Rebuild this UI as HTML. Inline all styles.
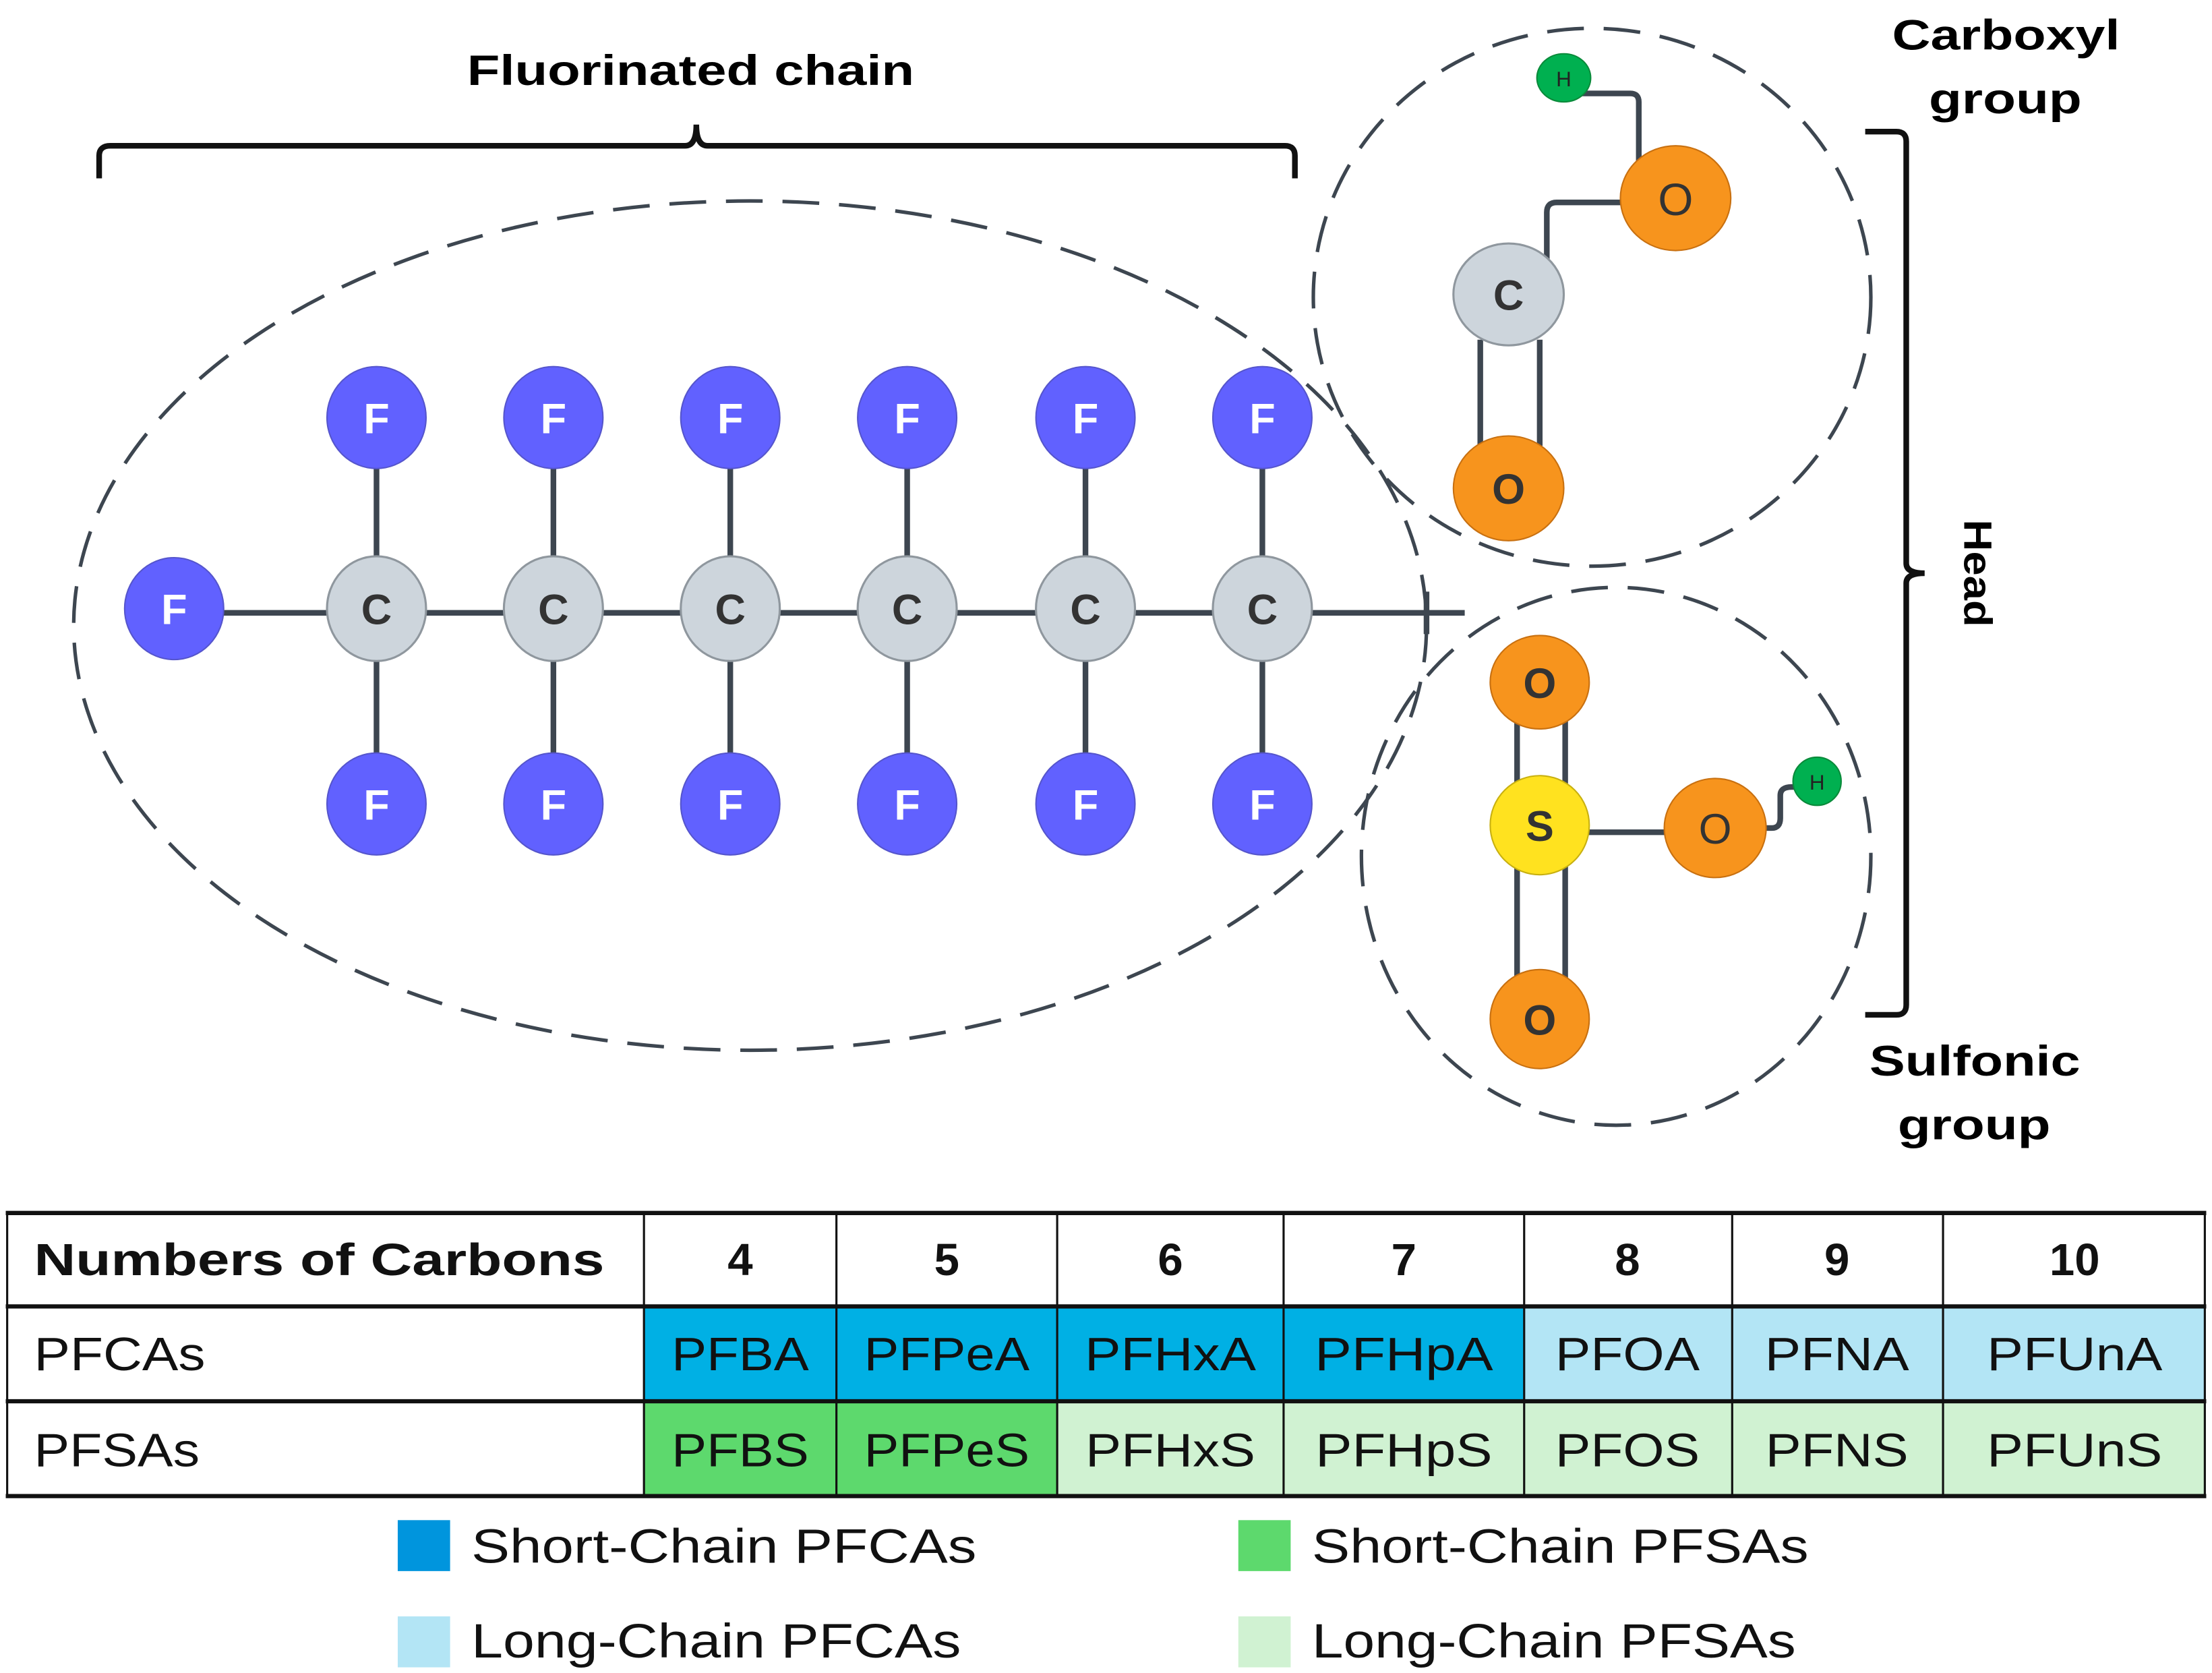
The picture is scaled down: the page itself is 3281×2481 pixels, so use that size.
<!DOCTYPE html>
<html><head><meta charset="utf-8"><style>
html,body{margin:0;padding:0;background:#fff;}
svg{display:block;}
text{font-family:"Liberation Sans",sans-serif;}
</style></head><body>
<svg width="3281" height="2481" viewBox="0 0 1563 1182" xmlns="http://www.w3.org/2000/svg">
<rect width="1563" height="1182" fill="#fff"/>
<text x="330" y="60" font-size="30" font-weight="bold" textLength="316" lengthAdjust="spacingAndGlyphs">Fluorinated chain</text>
<path d="M70,126 V110 Q70,103 78,103 H484 Q492,103 492,88 Q492,103 500,103 H908 Q915,103 915,110 V126" fill="none" stroke="#111" stroke-width="4"/>
<ellipse cx="530" cy="442" rx="478" ry="300" fill="none" stroke="#3d4650" stroke-width="2.5" stroke-dasharray="26 14"/>
<g stroke="#3d4650" stroke-width="4" fill="none">
<line x1="150" y1="433" x2="1035" y2="433"/>
<line x1="1008" y1="418" x2="1008" y2="448"/>
<line x1="266" y1="300" x2="266" y2="560"/>
<line x1="391" y1="300" x2="391" y2="560"/>
<line x1="516" y1="300" x2="516" y2="560"/>
<line x1="641" y1="300" x2="641" y2="560"/>
<line x1="767" y1="300" x2="767" y2="560"/>
<line x1="892" y1="300" x2="892" y2="560"/>
</g>
<g font-size="30" font-weight="bold" text-anchor="middle">
<g fill="#6161ff" stroke="#5555cc" stroke-width="1">
<ellipse cx="123" cy="430" rx="35" ry="36"/>
<ellipse cx="266" cy="295" rx="35" ry="36"/><ellipse cx="391" cy="295" rx="35" ry="36"/><ellipse cx="516" cy="295" rx="35" ry="36"/><ellipse cx="641" cy="295" rx="35" ry="36"/><ellipse cx="767" cy="295" rx="35" ry="36"/><ellipse cx="892" cy="295" rx="35" ry="36"/>
<ellipse cx="266" cy="568" rx="35" ry="36"/><ellipse cx="391" cy="568" rx="35" ry="36"/><ellipse cx="516" cy="568" rx="35" ry="36"/><ellipse cx="641" cy="568" rx="35" ry="36"/><ellipse cx="767" cy="568" rx="35" ry="36"/><ellipse cx="892" cy="568" rx="35" ry="36"/>
</g>
<g fill="#fff">
<text x="123" y="441">F</text>
<text x="266" y="306">F</text><text x="391" y="306">F</text><text x="516" y="306">F</text><text x="641" y="306">F</text><text x="767" y="306">F</text><text x="892" y="306">F</text>
<text x="266" y="579">F</text><text x="391" y="579">F</text><text x="516" y="579">F</text><text x="641" y="579">F</text><text x="767" y="579">F</text><text x="892" y="579">F</text>
</g>
<g fill="#cdd5dc" stroke="#8f979e" stroke-width="1.5">
<ellipse cx="266" cy="430" rx="35" ry="37"/><ellipse cx="391" cy="430" rx="35" ry="37"/><ellipse cx="516" cy="430" rx="35" ry="37"/><ellipse cx="641" cy="430" rx="35" ry="37"/><ellipse cx="767" cy="430" rx="35" ry="37"/><ellipse cx="892" cy="430" rx="35" ry="37"/>
</g>
<g fill="#333">
<text x="266" y="441">C</text><text x="391" y="441">C</text><text x="516" y="441">C</text><text x="641" y="441">C</text><text x="767" y="441">C</text><text x="892" y="441">C</text>
</g>
</g>
<ellipse cx="1125" cy="210" rx="197" ry="190" fill="none" stroke="#3d4650" stroke-width="2.5" stroke-dasharray="26 14"/>
<g stroke="#3d4650" stroke-width="4" fill="none">
<path d="M1115,66 H1152 Q1158,66 1158,72 V115"/>
<path d="M1093,185 V150 Q1093,143 1100,143 H1150"/>
<line x1="1046" y1="240" x2="1046" y2="315"/>
<line x1="1088" y1="240" x2="1088" y2="315"/>
</g>
<ellipse cx="1105" cy="55" rx="19" ry="17" fill="#00b050" stroke="#0a8a3a" stroke-width="1"/>
<text x="1105" y="61" font-size="15" text-anchor="middle" fill="#222">H</text>
<ellipse cx="1184" cy="140" rx="39" ry="37" fill="#f7941d" stroke="#c87010" stroke-width="1"/>
<text x="1184" y="152" font-size="32" text-anchor="middle" fill="#333">O</text>
<ellipse cx="1066" cy="208" rx="39" ry="36" fill="#cdd5dc" stroke="#8f979e" stroke-width="1.5"/>
<text x="1066" y="219" font-size="30" font-weight="bold" text-anchor="middle" fill="#333">C</text>
<ellipse cx="1066" cy="345" rx="39" ry="37" fill="#f7941d" stroke="#c87010" stroke-width="1"/>
<text x="1066" y="356" font-size="30" font-weight="bold" text-anchor="middle" fill="#333">O</text>
<ellipse cx="1142" cy="605" rx="180" ry="190" fill="none" stroke="#3d4650" stroke-width="2.5" stroke-dasharray="26 14"/>
<g stroke="#3d4650" stroke-width="4" fill="none">
<line x1="1072" y1="505" x2="1072" y2="560"/><line x1="1106" y1="505" x2="1106" y2="560"/>
<line x1="1072" y1="610" x2="1072" y2="695"/><line x1="1106" y1="610" x2="1106" y2="695"/>
<line x1="1120" y1="588" x2="1180" y2="588"/>
<path d="M1245,585 H1252 Q1258,585 1258,578 V562 Q1258,556 1266,556 H1272"/>
</g>
<ellipse cx="1088" cy="482" rx="35" ry="33" fill="#f7941d" stroke="#c87010" stroke-width="1"/>
<text x="1088" y="493" font-size="30" font-weight="bold" text-anchor="middle" fill="#333">O</text>
<ellipse cx="1088" cy="583" rx="35" ry="35" fill="#ffe21f" stroke="#c8b010" stroke-width="1"/>
<text x="1088" y="594" font-size="30" font-weight="bold" text-anchor="middle" fill="#333">S</text>
<ellipse cx="1212" cy="585" rx="36" ry="35" fill="#f7941d" stroke="#c87010" stroke-width="1"/>
<text x="1212" y="596" font-size="30" text-anchor="middle" fill="#333">O</text>
<ellipse cx="1284" cy="552" rx="17" ry="17" fill="#00b050" stroke="#0a8a3a" stroke-width="1"/>
<text x="1284" y="558" font-size="15" text-anchor="middle" fill="#222">H</text>
<ellipse cx="1088" cy="720" rx="35" ry="35" fill="#f7941d" stroke="#c87010" stroke-width="1"/>
<text x="1088" y="731" font-size="30" font-weight="bold" text-anchor="middle" fill="#333">O</text>
<path d="M1318,93 H1340 Q1347,93 1347,100 V398 Q1347,405 1360,405 Q1347,405 1347,412 V710 Q1347,717 1340,717 H1318" fill="none" stroke="#111" stroke-width="4"/>
<text x="0" y="0" font-size="28" font-weight="bold" text-anchor="middle" transform="translate(1388,405) rotate(90)" textLength="76" lengthAdjust="spacingAndGlyphs">Head</text>
<g font-size="30" font-weight="bold">
<text x="1337" y="35" textLength="161" lengthAdjust="spacingAndGlyphs">Carboxyl</text>
<text x="1363" y="80" textLength="108" lengthAdjust="spacingAndGlyphs">group</text>
<text x="1321" y="760" textLength="149" lengthAdjust="spacingAndGlyphs">Sulfonic</text>
<text x="1341" y="805" textLength="108" lengthAdjust="spacingAndGlyphs">group</text>
</g>
<g>
<rect x="455" y="923" width="622" height="67" fill="#00b0e4"/>
<rect x="1077" y="923" width="481" height="67" fill="#b3e5f5"/>
<rect x="455" y="990" width="292" height="67" fill="#5dd96d"/>
<rect x="747" y="990" width="811" height="67" fill="#d0f2d2"/>
<g stroke="#111" stroke-width="1.5">
<line x1="5" y1="857" x2="5" y2="1057"/>
<line x1="455" y1="857" x2="455" y2="1057"/><line x1="591" y1="857" x2="591" y2="1057"/><line x1="747" y1="857" x2="747" y2="1057"/><line x1="907" y1="857" x2="907" y2="1057"/><line x1="1077" y1="857" x2="1077" y2="1057"/><line x1="1224" y1="857" x2="1224" y2="1057"/><line x1="1373" y1="857" x2="1373" y2="1057"/><line x1="1558" y1="857" x2="1558" y2="1057"/>
</g>
<g stroke="#111" stroke-width="3">
<line x1="4" y1="857" x2="1559" y2="857"/><line x1="4" y1="923" x2="1559" y2="923"/><line x1="4" y1="990" x2="1559" y2="990"/><line x1="4" y1="1057" x2="1559" y2="1057"/>
</g>
<g font-size="32" font-weight="bold" text-anchor="middle" fill="#111">
<text x="24" y="901" text-anchor="start" textLength="403" lengthAdjust="spacingAndGlyphs">Numbers of Carbons</text>
<text x="523" y="901">4</text><text x="669" y="901">5</text><text x="827" y="901">6</text><text x="992" y="901">7</text><text x="1150" y="901">8</text><text x="1298" y="901">9</text><text x="1466" y="901">10</text>
</g>
<g font-size="33" text-anchor="middle" fill="#111" lengthAdjust="spacingAndGlyphs">
<text x="24" y="968" text-anchor="start" textLength="121" lengthAdjust="spacingAndGlyphs">PFCAs</text>
<text x="523" y="968" textLength="97" lengthAdjust="spacingAndGlyphs">PFBA</text>
<text x="669" y="968" textLength="117" lengthAdjust="spacingAndGlyphs">PFPeA</text>
<text x="827" y="968" textLength="121" lengthAdjust="spacingAndGlyphs">PFHxA</text>
<text x="992" y="968" textLength="126" lengthAdjust="spacingAndGlyphs">PFHpA</text>
<text x="1150" y="968" textLength="102" lengthAdjust="spacingAndGlyphs">PFOA</text>
<text x="1298" y="968" textLength="102" lengthAdjust="spacingAndGlyphs">PFNA</text>
<text x="1466" y="968" textLength="124" lengthAdjust="spacingAndGlyphs">PFUnA</text>
<text x="24" y="1036" text-anchor="start" textLength="117" lengthAdjust="spacingAndGlyphs">PFSAs</text>
<text x="523" y="1036" textLength="97" lengthAdjust="spacingAndGlyphs">PFBS</text>
<text x="669" y="1036" textLength="117" lengthAdjust="spacingAndGlyphs">PFPeS</text>
<text x="827" y="1036" textLength="120" lengthAdjust="spacingAndGlyphs">PFHxS</text>
<text x="992" y="1036" textLength="125" lengthAdjust="spacingAndGlyphs">PFHpS</text>
<text x="1150" y="1036" textLength="102" lengthAdjust="spacingAndGlyphs">PFOS</text>
<text x="1298" y="1036" textLength="101" lengthAdjust="spacingAndGlyphs">PFNS</text>
<text x="1466" y="1036" textLength="124" lengthAdjust="spacingAndGlyphs">PFUnS</text>
</g>
</g>
<rect x="281" y="1074" width="37" height="36" fill="#0095dd"/>
<rect x="281" y="1142" width="37" height="36" fill="#b3e5f5"/>
<rect x="875" y="1074" width="37" height="36" fill="#5dd96d"/>
<rect x="875" y="1142" width="37" height="36" fill="#d0f2d2"/>
<g font-size="34" fill="#111">
<text x="333" y="1104" textLength="357" lengthAdjust="spacingAndGlyphs">Short-Chain PFCAs</text>
<text x="333" y="1171" textLength="346" lengthAdjust="spacingAndGlyphs">Long-Chain PFCAs</text>
<text x="927" y="1104" textLength="351" lengthAdjust="spacingAndGlyphs">Short-Chain PFSAs</text>
<text x="927" y="1171" textLength="342" lengthAdjust="spacingAndGlyphs">Long-Chain PFSAs</text>
</g>
</svg>
</body></html>
